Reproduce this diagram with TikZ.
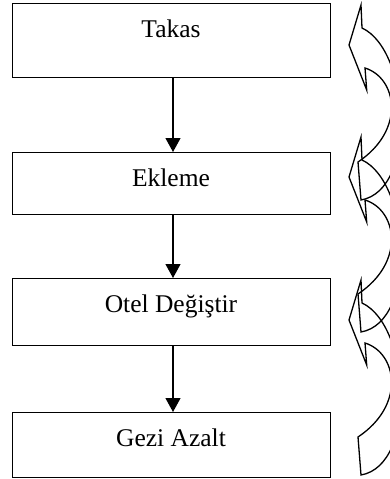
\documentclass[tikz,border=0pt]{standalone}
\usepackage{fontspec}
\setmainfont{Liberation Serif}
\usetikzlibrary{arrows.meta}
\begin{document}
\begin{tikzpicture}[x=1pt,y=-1pt,
  box/.style={draw, line width=0.9pt, rectangle, inner sep=0pt, minimum width=318pt,
    text height=34.5pt, anchor=north, font=\fontsize{25.5}{30}\selectfont},
  conn/.style={line width=1.2pt, -{Triangle[length=14pt,width=15pt]}},
  curvy/.style={line width=1.3pt, line join=miter}]
\useasboundingbox (0,0) rectangle (390,479);
\clip (0,0) rectangle (390,479);
\node[box, text depth=39.7pt] (takas) at (171,3) {Takas};
\node[box, text depth=27pt] (ekleme) at (171,152) {Ekleme};
\node[box, text depth=32.3pt] (otel) at (171,278) {Otel Değiştir};
\node[box, text depth=30pt] (gezi) at (171,412) {Gezi Azalt};
\coordinate (ax) at (173,0);
\draw[conn] (takas.south -| ax) -- (ekleme.north -| ax);
\draw[conn] (ekleme.south -| ax) -- (otel.north -| ax);
\draw[conn] (otel.south -| ax) -- (gezi.north -| ax);
\foreach \dy in {0,132,275} {
  \draw[curvy, shift={(0,\dy)}] (362,28) -- (361,5) -- (349,45) -- (366.7,90) -- (365,68)
    .. controls (397,78) and (406,130) .. (358,162) -- (361,200)
    .. controls (418,190) and (410,50) .. (362,28) -- cycle;
}
\end{tikzpicture}
\end{document}
